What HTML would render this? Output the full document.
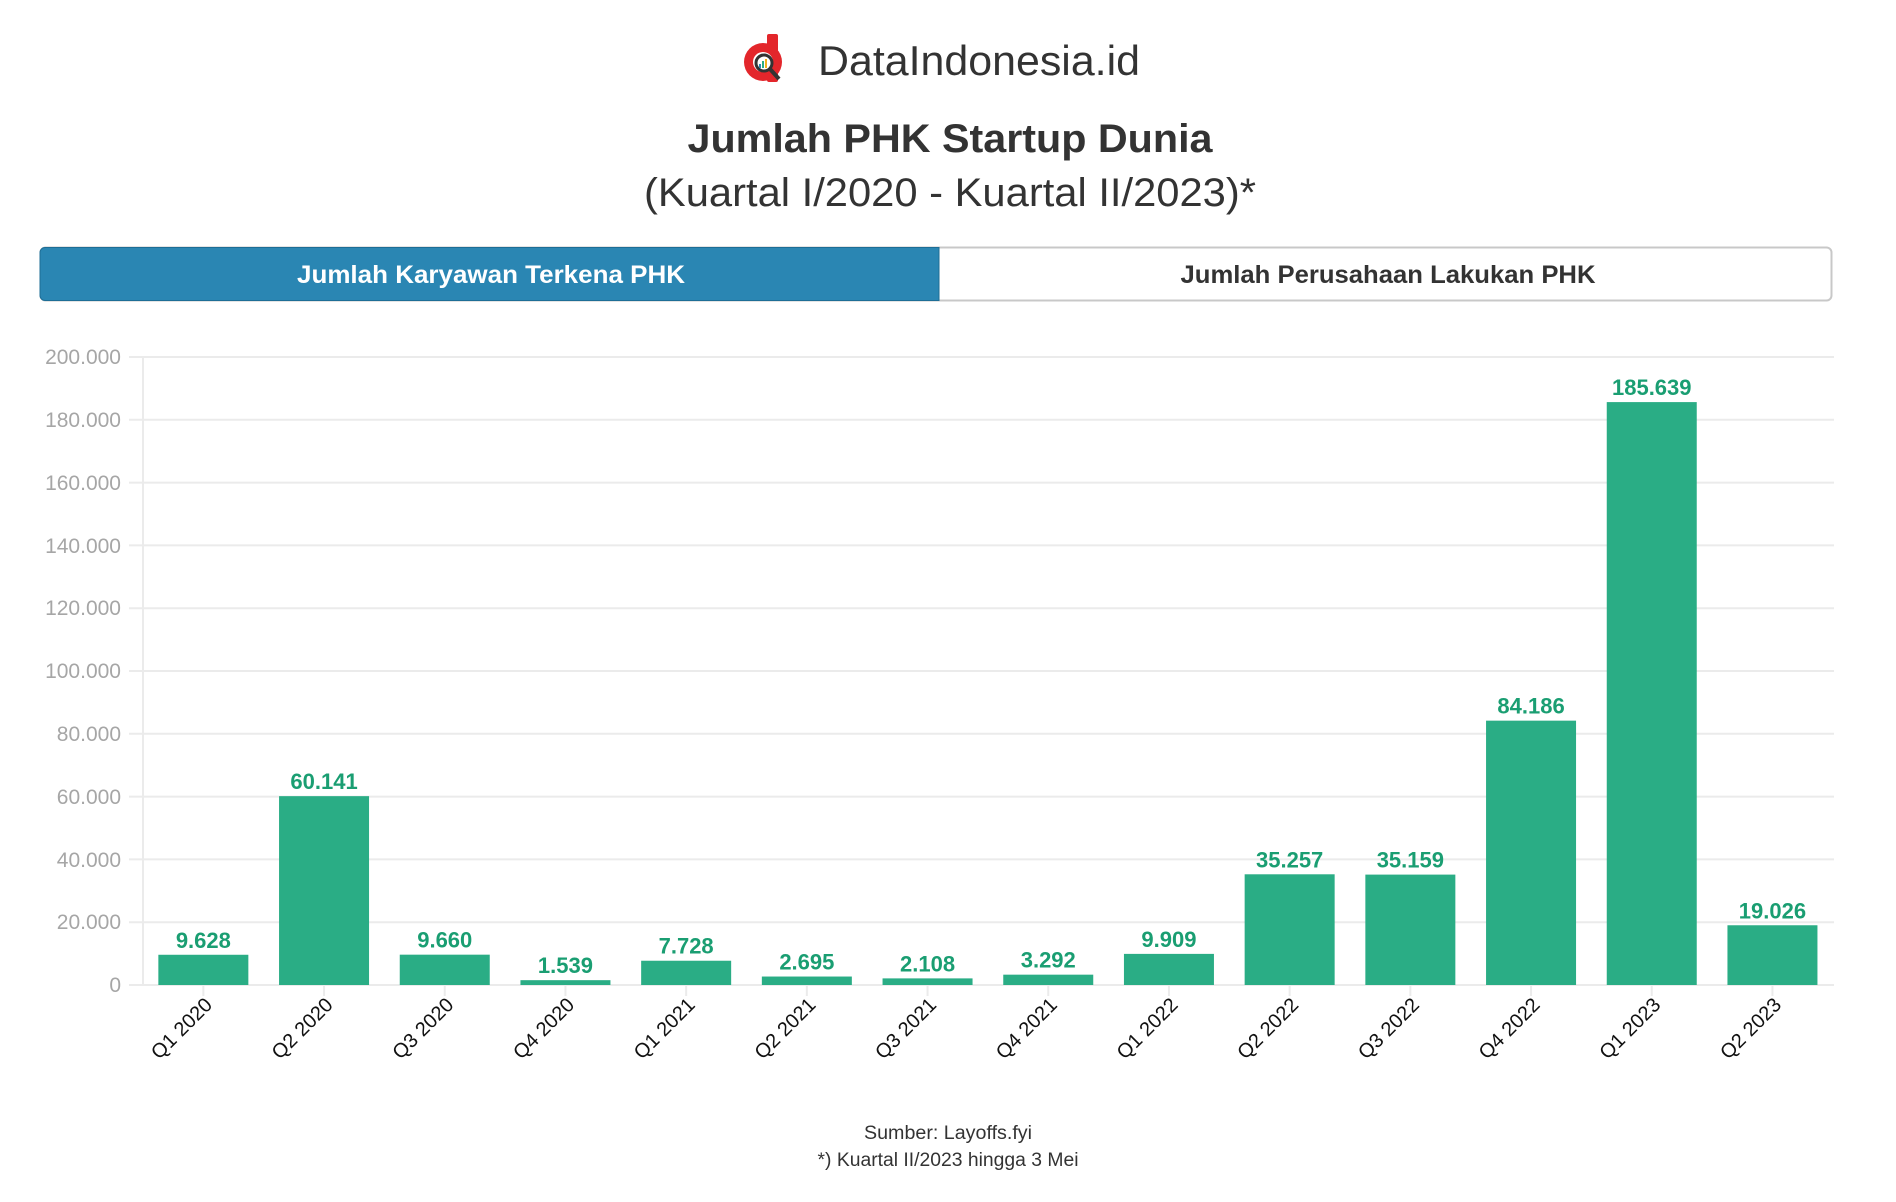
<!DOCTYPE html>
<html><head><meta charset="utf-8"><style>
body{margin:0;background:#fff;width:1896px;height:1197px;overflow:hidden;font-family:"Liberation Sans",sans-serif}
</style></head><body>
<svg width="1896" height="1197" xmlns="http://www.w3.org/2000/svg" font-family="Liberation Sans, sans-serif">
<!-- logo -->
<g transform="translate(743,34)">
<rect x="24" y="0" width="11" height="48" rx="2" fill="#e3262b"/>
<circle cx="20" cy="28" r="19" fill="#e3262b"/>
<circle cx="20" cy="28" r="10" fill="#fff"/>
<circle cx="21" cy="29" r="8" fill="#fff" stroke="#333" stroke-width="3"/>
<line x1="27" y1="35" x2="36" y2="45" stroke="#333" stroke-width="4"/>
<rect x="16" y="30" width="2" height="4" fill="#2a86b3"/><rect x="19" y="27" width="2" height="7" fill="#2aad85"/><rect x="22" y="25" width="2" height="9" fill="#f2b01e"/>
</g>
<text x="818" y="75" font-size="42" fill="#333" textLength="322" lengthAdjust="spacingAndGlyphs">DataIndonesia.id</text>
<text x="950" y="152" font-size="40" font-weight="bold" fill="#333" text-anchor="middle" textLength="525" lengthAdjust="spacingAndGlyphs">Jumlah PHK Startup Dunia</text>
<text x="950" y="206" font-size="40" fill="#333" text-anchor="middle" textLength="612" lengthAdjust="spacingAndGlyphs">(Kuartal I/2020 - Kuartal II/2023)*</text>
<!-- tabs -->
<rect x="40.5" y="247.5" width="1791" height="53" rx="5" fill="#fff" stroke="#c8c8c8" stroke-width="2"/>
<path d="M45 247.5 H939 V300.5 H45 a5 5 0 0 1 -5 -5 V252.5 a5 5 0 0 1 5 -5z" fill="#2a86b3" stroke="#1e6e96" stroke-width="1"/>
<text x="491" y="283" font-size="25" font-weight="bold" fill="#fff" text-anchor="middle" textLength="388" lengthAdjust="spacingAndGlyphs">Jumlah Karyawan Terkena PHK</text>
<text x="1388" y="283" font-size="25" font-weight="bold" fill="#333" text-anchor="middle" textLength="415" lengthAdjust="spacingAndGlyphs">Jumlah Perusahaan Lakukan PHK</text>
<!-- grid -->
<g stroke="#ebebeb" stroke-width="2">
<line x1="129" x2="1834" y1="357" y2="357"/><line x1="129" x2="1834" y1="419.8" y2="419.8"/><line x1="129" x2="1834" y1="482.6" y2="482.6"/><line x1="129" x2="1834" y1="545.4" y2="545.4"/><line x1="129" x2="1834" y1="608.2" y2="608.2"/><line x1="129" x2="1834" y1="671" y2="671"/><line x1="129" x2="1834" y1="733.8" y2="733.8"/><line x1="129" x2="1834" y1="796.6" y2="796.6"/><line x1="129" x2="1834" y1="859.4" y2="859.4"/><line x1="129" x2="1834" y1="922.2" y2="922.2"/><line x1="129" x2="1834" y1="985" y2="985"/>
<line x1="143" x2="143" y1="357" y2="985"/>
</g>
<g font-size="21" fill="#a6a6a6" text-anchor="end">
<text x="121" y="364">200.000</text><text x="121" y="427">180.000</text><text x="121" y="490">160.000</text><text x="121" y="553">140.000</text><text x="121" y="615">120.000</text><text x="121" y="678">100.000</text><text x="121" y="741">80.000</text><text x="121" y="804">60.000</text><text x="121" y="867">40.000</text><text x="121" y="929">20.000</text><text x="121" y="992">0</text>
</g>
<g id="bars"></g>
</svg>
<script>
var vals=[9628,60141,9660,1539,7728,2695,2108,3292,9909,35257,35159,84186,185639,19026];
var labs=["Q1 2020","Q2 2020","Q3 2020","Q4 2020","Q1 2021","Q2 2021","Q3 2021","Q4 2021","Q1 2022","Q2 2022","Q3 2022","Q4 2022","Q1 2023","Q2 2023"];
var g=document.getElementById("bars"),h="";
function fmt(v){return v.toString().replace(/\B(?=(\d{3})+(?!\d))/g,".");}
for(var i=0;i<14;i++){var cx=143+120.7*(i+0.5);var y=985-vals[i]*0.00314;
h+='<rect x="'+(cx-45)+'" y="'+y+'" width="90" height="'+(985-y)+'" fill="#2aad85"/>';
h+='<text x="'+cx+'" y="'+(y-7)+'" font-size="22" font-weight="bold" fill="#1a9e72" text-anchor="middle">'+fmt(vals[i])+'</text>';
h+='<line x1="'+cx+'" x2="'+cx+'" y1="986" y2="996" stroke="#ebebeb" stroke-width="2"/>';
h+='<text transform="translate('+(cx+10)+',1006) rotate(-45)" font-size="20" fill="#111" text-anchor="end">'+labs[i]+'</text>';}
h+='<text x="948" y="1139" font-size="19" fill="#333" text-anchor="middle" textLength="168" lengthAdjust="spacingAndGlyphs">Sumber: Layoffs.fyi</text>';
h+='<text x="948" y="1166" font-size="19" fill="#333" text-anchor="middle" textLength="261" lengthAdjust="spacingAndGlyphs">*) Kuartal II/2023 hingga 3 Mei</text>';
g.innerHTML=h;
</script>
</body></html>
